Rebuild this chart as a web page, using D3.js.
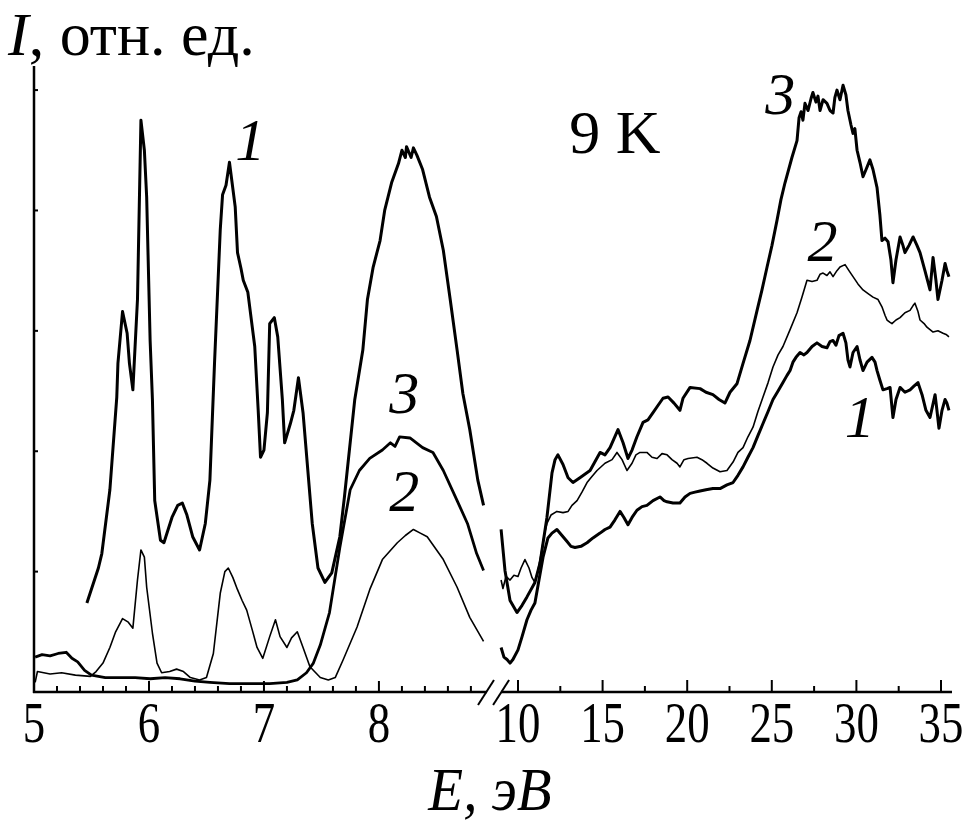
<!DOCTYPE html>
<meta charset="utf-8">
<script src="https://d3js.org/d3.v7.min.js"></script>
<style>
body { margin: 0; background: #fff; }
text { font-family: "Liberation Serif", "Times New Roman", serif; fill: #000; }
</style>
<div id="my_dataviz"></div>
<script>

// spectra: [E (eV), I (rel. units)]
// low-energy part (5 - 8.9 eV)
var curve1Left = [[5.46,0.74],[5.56,1.03],[5.59,1.15],[5.66,1.68],[5.72,2.45],[5.73,2.73],[5.77,3.16],[5.81,2.98],[5.83,2.73],[5.86,2.51],[5.90,3.26],[5.93,4.75],[5.96,4.50],[5.98,4.11],[6.01,2.92],[6.03,2.43],[6.05,1.59],[6.10,1.26],[6.13,1.24],[6.20,1.45],[6.25,1.55],[6.29,1.57],[6.33,1.47],[6.38,1.29],[6.44,1.18],[6.49,1.40],[6.53,1.76],[6.57,2.73],[6.62,3.84],[6.64,4.13],[6.67,4.21],[6.70,4.40],[6.75,4.03],[6.77,3.65],[6.80,3.52],[6.82,3.42],[6.86,3.32],[6.92,2.87],[6.95,2.34],[6.97,1.95],[7.00,2.01],[7.03,2.32],[7.05,3.06],[7.09,3.11],[7.12,2.95],[7.16,2.43],[7.18,2.07],[7.23,2.23],[7.26,2.34],[7.30,2.61],[7.34,2.32],[7.42,1.40],[7.47,1.03],[7.53,0.91],[7.59,0.99],[7.66,1.29],[7.70,1.62],[7.79,2.43],[7.86,2.84],[7.90,3.26],[7.95,3.53],[8.01,3.75],[8.05,4.00],[8.11,4.23],[8.17,4.39],[8.20,4.50],[8.23,4.44],[8.24,4.53],[8.28,4.44],[8.30,4.52],[8.33,4.46],[8.38,4.34],[8.44,4.11],[8.50,3.95],[8.56,3.67],[8.62,3.26],[8.68,2.84],[8.73,2.48],[8.79,2.18],[8.86,1.76],[8.91,1.55]];
var curve2Left = [[5.01,0.08],[5.03,0.17],[5.14,0.15],[5.24,0.16],[5.36,0.14],[5.49,0.13],[5.54,0.17],[5.60,0.24],[5.66,0.37],[5.71,0.50],[5.77,0.61],[5.82,0.58],[5.86,0.53],[5.90,0.93],[5.93,1.18],[5.96,1.12],[5.98,0.87],[6.03,0.49],[6.07,0.24],[6.11,0.16],[6.18,0.17],[6.24,0.19],[6.30,0.17],[6.36,0.12],[6.44,0.10],[6.50,0.12],[6.56,0.32],[6.62,0.82],[6.66,1.00],[6.69,1.03],[6.73,0.95],[6.77,0.85],[6.81,0.76],[6.85,0.68],[6.90,0.51],[6.94,0.37],[6.99,0.28],[7.05,0.46],[7.10,0.60],[7.14,0.46],[7.20,0.37],[7.24,0.45],[7.29,0.50],[7.34,0.37],[7.40,0.21],[7.49,0.12],[7.56,0.10],[7.62,0.12],[7.69,0.27],[7.81,0.54],[7.92,0.85],[8.03,1.10],[8.16,1.24],[8.23,1.30],[8.30,1.35],[8.36,1.32],[8.42,1.29],[8.56,1.10],[8.68,0.87],[8.79,0.62],[8.91,0.42]];
var curve3Left = [[5.01,0.29],[5.07,0.31],[5.14,0.30],[5.21,0.32],[5.28,0.33],[5.33,0.28],[5.38,0.25],[5.44,0.18],[5.50,0.14],[5.62,0.12],[5.75,0.12],[5.88,0.12],[6.01,0.11],[6.14,0.12],[6.27,0.11],[6.40,0.09],[6.53,0.08],[6.70,0.07],[6.88,0.07],[7.05,0.07],[7.20,0.08],[7.29,0.10],[7.37,0.16],[7.43,0.24],[7.49,0.39],[7.57,0.66],[7.66,1.20],[7.75,1.68],[7.83,1.84],[7.92,1.94],[8.03,2.01],[8.10,2.07],[8.14,2.04],[8.18,2.12],[8.27,2.11],[8.38,2.03],[8.47,1.99],[8.56,1.84],[8.68,1.59],[8.77,1.40],[8.85,1.15],[8.91,1.01]];

// high-energy part (9 - 35.5 eV)
var curve1Right = [[9.00,0.37],[9.17,0.29],[9.35,0.27],[9.53,0.24],[9.70,0.27],[10.00,0.35],[10.24,0.46],[10.53,0.60],[10.77,0.68],[11.00,0.74],[11.24,0.93],[11.48,1.12],[11.77,1.28],[12.01,1.32],[12.30,1.35],[12.60,1.30],[12.90,1.25],[13.13,1.21],[13.37,1.20],[13.72,1.21],[14.08,1.24],[14.43,1.28],[14.85,1.32],[15.14,1.35],[15.44,1.37],[15.73,1.43],[16.03,1.50],[16.26,1.45],[16.50,1.39],[16.74,1.45],[17.03,1.51],[17.33,1.54],[17.62,1.55],[17.98,1.59],[18.39,1.62],[18.63,1.59],[18.81,1.58],[19.16,1.57],[19.57,1.57],[19.87,1.62],[20.17,1.65],[20.46,1.66],[20.76,1.67],[21.11,1.68],[21.52,1.69],[21.94,1.69],[22.35,1.72],[22.71,1.74],[23.00,1.80],[23.30,1.87],[23.59,1.95],[23.89,2.03],[24.18,2.13],[24.48,2.23],[24.78,2.33],[25.07,2.43],[25.37,2.50],[25.66,2.57],[25.90,2.63],[26.08,2.67],[26.25,2.74],[26.43,2.78],[26.67,2.82],[26.90,2.80],[27.08,2.82],[27.38,2.87],[27.67,2.90],[27.97,2.87],[28.26,2.86],[28.44,2.91],[28.62,2.92],[28.79,2.88],[28.97,2.96],[29.21,2.98],[29.38,2.90],[29.50,2.76],[29.62,2.70],[29.80,2.82],[30.04,2.87],[30.21,2.76],[30.39,2.67],[30.63,2.74],[30.92,2.78],[31.10,2.74],[31.22,2.67],[31.39,2.59],[31.57,2.51],[31.81,2.52],[31.99,2.53],[32.16,2.28],[32.34,2.43],[32.58,2.53],[32.87,2.49],[33.17,2.51],[33.40,2.54],[33.64,2.57],[33.88,2.47],[34.11,2.34],[34.35,2.28],[34.65,2.47],[34.76,2.34],[34.88,2.19],[35.06,2.34],[35.24,2.43],[35.35,2.40],[35.47,2.34]];
var curve2Right = [[9.00,0.93],[9.11,0.86],[9.29,0.96],[9.53,0.93],[9.76,0.97],[10.00,0.96],[10.18,1.03],[10.41,1.10],[10.65,1.03],[10.83,0.95],[11.00,0.91],[11.18,1.01],[11.36,1.14],[11.54,1.30],[11.71,1.40],[11.95,1.47],[12.30,1.50],[12.66,1.49],[12.96,1.50],[13.19,1.55],[13.49,1.59],[13.78,1.66],[14.08,1.74],[14.37,1.79],[14.67,1.84],[15.14,1.90],[15.56,1.93],[15.85,1.99],[16.15,1.93],[16.44,1.84],[16.74,1.90],[16.97,1.97],[17.21,1.99],[17.62,1.99],[17.92,1.95],[18.22,1.94],[18.51,1.98],[18.81,1.97],[19.10,1.93],[19.40,1.90],[19.57,1.87],[19.81,1.93],[20.05,1.94],[20.58,1.95],[20.87,1.93],[21.17,1.90],[21.52,1.86],[21.94,1.83],[22.35,1.84],[22.71,1.91],[23.00,1.99],[23.30,2.03],[23.59,2.12],[23.89,2.20],[24.18,2.33],[24.48,2.45],[24.78,2.57],[25.07,2.70],[25.37,2.80],[25.66,2.87],[26.08,3.01],[26.49,3.15],[26.78,3.28],[27.08,3.42],[27.38,3.41],[27.67,3.42],[27.85,3.47],[28.03,3.48],[28.26,3.46],[28.44,3.49],[28.62,3.45],[28.85,3.50],[29.03,3.53],[29.33,3.55],[29.56,3.50],[29.80,3.45],[30.09,3.39],[30.39,3.34],[30.69,3.31],[30.98,3.28],[31.28,3.26],[31.51,3.20],[31.69,3.13],[31.81,3.09],[31.99,3.07],[32.10,3.06],[32.34,3.09],[32.58,3.11],[32.87,3.15],[33.17,3.17],[33.35,3.21],[33.46,3.23],[33.64,3.16],[33.76,3.09],[34.00,3.06],[34.17,3.03],[34.53,2.99],[34.82,3.00],[35.12,2.98],[35.30,2.97],[35.47,2.95]];
var curve3Right = [[9.00,1.35],[9.23,1.01],[9.53,0.76],[9.94,0.66],[10.24,0.72],[10.53,0.79],[11.00,0.91],[11.30,1.07],[11.71,1.45],[12.01,1.82],[12.19,1.93],[12.36,1.97],[12.66,1.89],[12.96,1.78],[13.25,1.74],[13.66,1.78],[14.26,1.84],[14.85,1.99],[15.14,1.97],[15.44,2.03],[15.91,2.18],[16.21,2.07],[16.50,1.94],[16.74,2.01],[17.03,2.12],[17.39,2.24],[17.68,2.26],[17.98,2.32],[18.27,2.38],[18.57,2.44],[18.87,2.45],[19.22,2.40],[19.57,2.34],[19.75,2.44],[20.17,2.53],[20.76,2.52],[21.11,2.49],[21.52,2.47],[21.88,2.43],[22.23,2.40],[22.53,2.49],[22.94,2.56],[23.30,2.73],[23.71,2.92],[24.13,3.17],[24.42,3.34],[24.72,3.53],[25.01,3.71],[25.31,3.92],[25.54,4.09],[25.78,4.23],[26.19,4.44],[26.49,4.58],[26.61,4.77],[26.73,4.82],[26.84,4.75],[26.96,4.89],[27.14,4.83],[27.32,4.93],[27.43,4.98],[27.61,4.90],[27.73,4.95],[27.85,4.83],[28.03,4.92],[28.26,4.89],[28.44,4.83],[28.62,4.81],[28.73,4.94],[28.85,5.00],[29.03,4.92],[29.21,5.04],[29.38,4.96],[29.50,4.83],[29.68,4.71],[29.80,4.64],[29.91,4.68],[30.04,4.50],[30.21,4.40],[30.39,4.28],[30.57,4.34],[30.80,4.42],[30.98,4.34],[31.22,4.19],[31.39,3.96],[31.51,3.75],[31.69,3.77],[31.87,3.74],[32.04,3.59],[32.16,3.40],[32.34,3.59],[32.58,3.78],[32.75,3.71],[32.87,3.65],[33.11,3.71],[33.35,3.78],[33.58,3.71],[33.76,3.65],[34.05,3.50],[34.35,3.34],[34.53,3.61],[34.70,3.42],[34.82,3.26],[35.06,3.42],[35.24,3.56],[35.35,3.50],[35.47,3.45]];

// axis ticks
var leftTickLabels = [5, 6, 7, 8];
var rightTickLabels = [10, 15, 20, 25, 30, 35];
var yTicks = [1, 2, 3, 4, 5];

// curve labels [number, segment, E, I]
var curveLabels = [
  ["1", "L", 6.88, 4.42],
  ["3", "L", 8.22, 2.32],
  ["2", "L", 8.22, 1.50],
  ["3", "R", 25.5, 4.80],
  ["2", "R", 28.0, 3.58],
  ["1", "R", 30.2, 2.12]
];

var width = 972, height = 823;

var svg = d3.select("#my_dataviz")
  .append("svg")
    .attr("width", width)
    .attr("height", height);

// broken x axis: two linear pieces
var xL = d3.scaleLinear().domain([5, 8.94]).range([34, 487]);
var xR = d3.scaleLinear().domain([10, 35]).range([518, 941]);
var y = d3.scaleLinear().domain([0, 5.2]).range([692, 66]);

var lineL = d3.line().x(function(d) { return xL(d[0]) }).y(function(d) { return y(d[1]) });
var lineR = d3.line().x(function(d) { return xR(d[0]) }).y(function(d) { return y(d[1]) });

var series = [
  {data: curve1Left, line: lineL, w: 3},
  {data: curve2Left, line: lineL, w: 1.6},
  {data: curve3Left, line: lineL, w: 2.8},
  {data: curve1Right, line: lineR, w: 3},
  {data: curve2Right, line: lineR, w: 1.6},
  {data: curve3Right, line: lineR, w: 3}
];

svg.selectAll("myLines")
  .data(series)
  .enter()
  .append("path")
    .attr("d", function(d) { return d.line(d.data) })
    .attr("fill", "none")
    .attr("stroke", "#000")
    .attr("stroke-width", function(d) { return d.w })
    .attr("stroke-linejoin", "round");

// axes
var axisG = svg.append("g").attr("stroke", "#000").attr("fill", "none");
var y0 = y(0);

axisG.append("line")
  .attr("x1", xL(5)).attr("x2", xL(5))
  .attr("y1", y(5.2)).attr("y2", y0 + 1)
  .attr("stroke-width", 2.5);
axisG.append("line")
  .attr("x1", xL(5) - 1).attr("x2", xL(8.94))
  .attr("y1", y0).attr("y2", y0)
  .attr("stroke-width", 2.5);
axisG.append("line")
  .attr("x1", xR(9.0)).attr("x2", xR(35.65))
  .attr("y1", y0).attr("y2", y0)
  .attr("stroke-width", 2.5);

// y ticks (inside)
axisG.selectAll("yt")
  .data(yTicks)
  .enter()
  .append("line")
    .attr("x1", xL(5)).attr("x2", xL(5) + 4)
    .attr("y1", function(d) { return y(d) }).attr("y2", function(d) { return y(d) })
    .attr("stroke-width", 2);

// x ticks, left piece every 0.2 eV
var leftTicks = d3.range(26, 45).map(function(i) { return i / 5; });
axisG.selectAll("xlt")
  .data(leftTicks)
  .enter()
  .append("line")
    .attr("x1", function(d) { return xL(d) }).attr("x2", function(d) { return xL(d) })
    .attr("y1", y0)
    .attr("y2", function(d) { return y0 - (Math.abs(d - Math.round(d)) < 1e-6 ? 11 : 6) })
    .attr("stroke-width", 2);

// x ticks, right piece every 2.5 eV
var rightTicks = d3.range(4, 15).map(function(i) { return i * 2.5; });
axisG.selectAll("xrt")
  .data(rightTicks)
  .enter()
  .append("line")
    .attr("x1", function(d) { return xR(d) }).attr("x2", function(d) { return xR(d) })
    .attr("y1", y0)
    .attr("y2", function(d) { return y0 - (d % 5 === 0 ? 12 : 6) })
    .attr("stroke-width", 2);

// break marks
[xL(8.94) - 1, xR(9.0)].forEach(function(cx) {
  axisG.append("line")
    .attr("x1", cx - 8).attr("y1", y0 + 13)
    .attr("x2", cx + 8).attr("y2", y0 - 12)
    .attr("stroke-width", 2);
});

// tick labels (condensed serif)
var tickFont = 56, squeeze = 0.8;
function tickLabel(xpos, txt) {
  svg.append("text")
    .attr("transform", "translate(" + xpos + ",742) scale(" + squeeze + ",1)")
    .attr("text-anchor", "middle")
    .style("font-size", tickFont + "px")
    .text(txt);
}
leftTickLabels.forEach(function(d) { tickLabel(xL(d), d); });
rightTickLabels.forEach(function(d) { tickLabel(xR(d), d); });

// axis titles
var yTitle = svg.append("text")
  .attr("x", 8).attr("y", 55)
  .style("font-size", "62px");
yTitle.append("tspan").style("font-style", "italic").text("I");
yTitle.append("tspan").text(", отн. ед.");

svg.append("text")
  .attr("transform", "translate(490,810) scale(0.92,1)")
  .attr("text-anchor", "middle")
  .style("font-size", "62px")
  .style("font-style", "italic")
  .text("E, эВ");

svg.append("text")
  .attr("x", 615).attr("y", 153)
  .attr("text-anchor", "middle")
  .style("font-size", "62px")
  .text("9 K");

svg.selectAll("myLabels")
  .data(curveLabels)
  .enter()
  .append("text")
    .attr("x", function(d) { return d[1] === "L" ? xL(d[2]) : xR(d[2]) })
    .attr("y", function(d) { return y(d[3]) })
    .attr("text-anchor", "middle")
    .style("font-size", "60px")
    .style("font-style", "italic")
    .text(function(d) { return d[0] });

</script>
